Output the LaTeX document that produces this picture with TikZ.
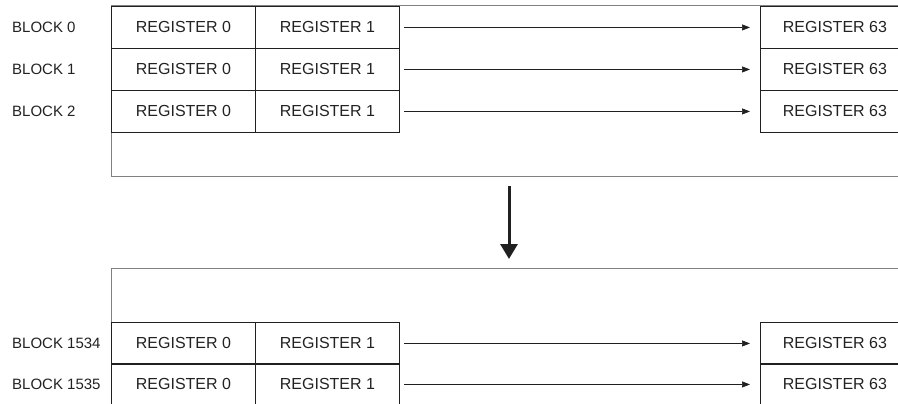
\documentclass[tikz,border=0pt]{standalone}
\usepackage{fontspec}
\setmainfont{Liberation Sans}
\usetikzlibrary{arrows.meta}
\definecolor{txt}{HTML}{222222}
\definecolor{frame}{HTML}{808080}
\definecolor{cell}{HTML}{202020}
\begin{document}
\begin{tikzpicture}[x=1pt,y=-1pt,
  lab/.style={font=\fontsize{15}{17}\selectfont,text=txt},
  reg/.style={font=\fontsize{16}{18}\selectfont,text=txt,draw=cell,line width=0.9pt,minimum width=144pt,minimum height=42pt,inner sep=0pt,anchor=north west},
  blk/.style={lab,anchor=west,inner sep=0pt},
  conn/.style={draw=cell,line width=0.7pt,-{Triangle[length=8pt,width=6pt]},shorten <=4pt,shorten >=10pt},
  outer/.style={draw=frame,line width=1pt}]
\useasboundingbox (0,0) rectangle (898,404);
\clip (0,0) rectangle (898,404);
% top frame
\draw[outer] (898,6) -- (111,6) -- (111,176) -- (898,176);
% top rows
\foreach \i/\y/\n in {0/6/0,1/48/1,2/90/2}{
  \node[reg] (a\i) at (111,\y) {REGISTER 0};
  \node[reg] (b\i) at (255,\y) {REGISTER 1};
  \node[reg,minimum width=149pt] (c\i) at (760,\y) {REGISTER 63};
  \node[blk] (l\i) at (12,\y+21) {BLOCK \n};
  \draw[conn] (b\i.east) -- (c\i.west);
}
% big arrow
\coordinate (s) at (509,186);
\coordinate (e) at (509,259);
\draw[draw=cell,line width=3pt,-{Triangle[length=15pt,width=17pt]}] (s) -- (e);
% bottom frame
\draw[outer] (898,268) -- (111,268) -- (111,410);
\foreach \i/\y/\n in {3/322/1534,4/363/1535}{
  \node[reg] (a\i) at (111,\y) {REGISTER 0};
  \node[reg] (b\i) at (255,\y) {REGISTER 1};
  \node[reg,minimum width=149pt] (c\i) at (760,\y) {REGISTER 63};
  \node[blk] (l\i) at (12,\y+21) {BLOCK \n};
  \draw[conn] (b\i.east) -- (c\i.west);
}
\end{tikzpicture}
\end{document}
